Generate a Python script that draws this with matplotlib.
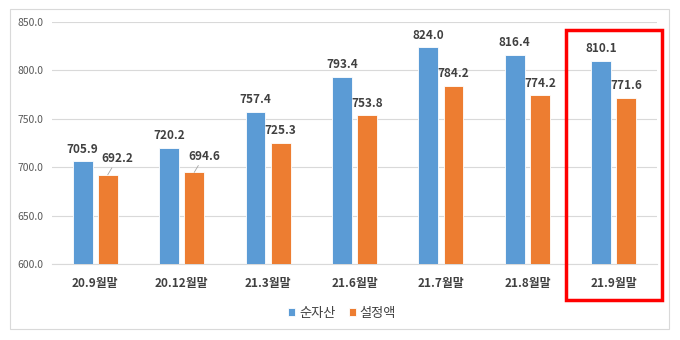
import matplotlib
matplotlib.use("Agg")
import matplotlib.pyplot as plt
from matplotlib.patches import Rectangle

plt.rcParams['font.family'] = ['Noto Sans CJK KR', 'DejaVu Sans']

categories = ["20.9월말", "20.12월말", "21.3월말", "21.6월말", "21.7월말", "21.8월말", "21.9월말"]
net_assets = [705.9, 720.2, 757.4, 793.4, 824.0, 816.4, 810.1]
set_amount = [692.2, 694.6, 725.3, 753.8, 784.2, 774.2, 771.6]
series_names = ["순자산", "설정액"]
yticks = [600, 650, 700, 750, 800, 850]

blue = "#5B9BD5"
orange = "#ED7D31"

W, H = 680, 340
fig = plt.figure(figsize=(W/100, H/100), dpi=100)
ax = fig.add_axes([52/W, 1-264/H, 605/W, 242/H])

x = list(range(len(categories)))
bw = 0.23
off = 0.145
b1 = ax.bar([i - off for i in x], net_assets, bw, color=blue, label=series_names[0], zorder=3,
            edgecolor="white", linewidth=0.6)
b2 = ax.bar([i + off for i in x], set_amount, bw, color=orange, label=series_names[1], zorder=3,
            edgecolor="white", linewidth=0.6)

ax.set_ylim(600, 850)
ax.set_xlim(-0.5, len(categories) - 0.5)
ax.set_yticks(yticks)
ax.set_yticklabels([f"{v:.1f}" for v in yticks], fontsize=7.5, color="#595959")
ax.set_xticks(x)
ax.set_xticklabels(categories, fontsize=8.5, color="#404040", fontweight="bold")
ax.tick_params(axis="both", length=0)
ax.tick_params(axis="x", pad=9)
ax.tick_params(axis="y", pad=6)
ax.grid(axis="y", color="#D9D9D9", linewidth=0.8, zorder=0)
for s in ["top", "right", "left"]:
    ax.spines[s].set_visible(False)
ax.spines["bottom"].set_color("#D9D9D9")

lab_kw = dict(fontsize=8.5, fontweight="bold", color="#404040", ha="center", va="bottom")
for i, v in enumerate(net_assets):
    ax.annotate(f"{v:.1f}", (i - off, v), xytext=(0, 4), textcoords="offset points", **lab_kw)
for i, v in enumerate(set_amount):
    if i < 2:
        ax.annotate(f"{v:.1f}", (i + off, v), xytext=(7, 7), textcoords="offset points",
                    arrowprops=dict(arrowstyle="-", color="#A6A6A6", lw=0.6,
                                    shrinkA=0, shrinkB=0), **lab_kw)
    else:
        ax.annotate(f"{v:.1f}", (i + off, v), xytext=(0, 4), textcoords="offset points", **lab_kw)

leg = fig.legend(handles=[b1, b2], labels=series_names, loc="center", ncol=2,
                 bbox_to_anchor=(342/W, 1-313/H), frameon=False, fontsize=9.5,
                 handlelength=0.55, handleheight=0.55, handletextpad=0.3, columnspacing=1.0)
for t in leg.get_texts():
    t.set_color("#404040")

# outer border
fig.patches.append(Rectangle((10/W, 1-329/H), 659/W, 320/H, transform=fig.transFigure,
                             fill=False, edgecolor="#D9D9D9", linewidth=0.8))
# red highlight box
fig.patches.append(Rectangle((566/W, 1-300/H), 96/W, 270/H, transform=fig.transFigure,
                             fill=False, edgecolor="#FF0000", linewidth=2.5, zorder=10))

fig.savefig("out.png", dpi=100, facecolor="white")
